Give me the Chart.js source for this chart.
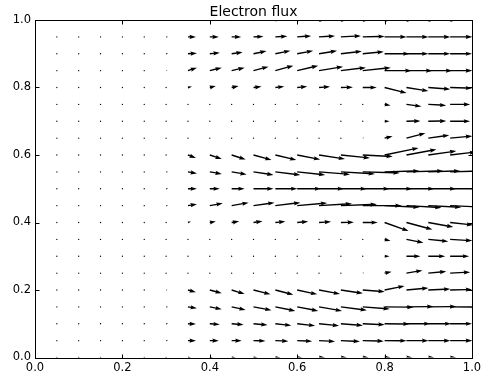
<!DOCTYPE html>
<html>
<head>
<meta charset="utf-8">
<script src="https://cdn.jsdelivr.net/npm/chart.js@4.4.1/dist/chart.umd.min.js"></script>
<style>
  html, body { margin: 0; padding: 0; background: #fff; }
  #wrap { width: 489px; height: 381px; }
</style>
</head>
<body>
<div id="wrap"><canvas id="flux"></canvas></div>
<script>
// grid of arrow tails
const gridX = [0, 0.05, 0.1, 0.15, 0.2, 0.25, 0.3, 0.35, 0.4, 0.45, 0.5, 0.55, 0.6, 0.65, 0.7, 0.75, 0.8, 0.85, 0.9, 0.95, 1.0];
const gridY = [0, 0.05, 0.1, 0.15, 0.2, 0.25, 0.3, 0.35, 0.4, 0.45, 0.5, 0.55, 0.6, 0.65, 0.7, 0.75, 0.8, 0.85, 0.9, 0.95, 1.0];
const xTicks = [0, 0.2, 0.4, 0.6, 0.8, 1.0];
const yTicks = [0, 0.2, 0.4, 0.6, 0.8, 1.0];

// flux components, one row per gridY value (bottom to top), one entry per gridX value
const U = [
  [0,0,0,0,0,0,0, 3,3,4,4,5,5,6,6,6,6,6,6,6,6],
  [0,0,0,0,0,0,2, 8,9,10,12,13,15,16,19,21,22,22,22,22,22],
  [0,0,0,0,0,0,2, 8,10,12,14,16,18,20,22,22,25,24,23,22,22],
  [0,0,0,0,0,0,2, 9,12,14,18,20,21,23,26,27,29,27,28,28,28],
  [0,0,0,0,0,0,1.5, 8,12,13,17,18,20,21,22,22,20,22,22,22,22],
  [0,0,0,0,0,0,0, 0,0,0,0,0,0,0,0,1.5,7,16,18,20,20],
  [0,0,0,0,0,0,0, 0,0,0,0,0,0,0,0,0.5,5,14,17,19,19],
  [0,0,0,0,0,0,0, 0,0,0,0,0,0,0,0,0,6,17,20,22,22],
  [0,0,0,0,0,0,0, 3,6,7.5,9,10,11,12,13,15,24,26,25,23,23],
  [0,0,0,0,0,0,2, 9,13,17,21,25,30,33,36,39,35,35,33,33,33],
  [0,0,0,0,0,0,2, 9,10,13,20,22,24,25,26,27,28,28,28,28,28],
  [0,0,0,0,0,0,2, 9,12,15,20,25,28,31,34,37,35,37,32,32,32],
  [0,0,0,0,0,0,1, 8,12,14,18,21,23,26,29,30,34,30,28,26,26],
  [0,0,0,0,0,0,0, 0,0,0,0,0,0,0,0,1.5,8,19,21,22,22],
  [0,0,0,0,0,0,0, 0,0,0,0,0,0,0,0,0,5,14,18,20,20],
  [0,0,0,0,0,0,0, 0,0,0,0,0,0,0,0,0,6,15,18,20,20],
  [0,0,0,0,0,0,0, 4,6,7,8,9,10,11,12,14,22,22,22,22,22],
  [0,0,0,0,0,0,1.5, 9,12,13,15,18,21,24,25,28,27,26,24,22,22],
  [0,0,0,0,0,0,2, 9,10,11,13,15,16,18,21,21,25,22,22,22,22],
  [0,0,0,0,0,0,2, 8,9,9.5,10,12,14,16,20,22,22,22,22,22,22],
  [0,0,0,0,0,0,0, 3,3,4,4,5,5,6,6,6,6,6,6,6,6]
];
const V = [
  [0,0,0,0,0,0,0, 0,0,0,0,0,0,0,0,0,0,0,0,0,0],
  [0,0,0,0,0,0,0, 0,0,0,-0.3,-0.5,-0.7,-0.8,-0.8,-0.5,-0.2,0,0,0,0],
  [0,0,0,0,0,0,0, -0.3,-0.7,-1,-1.3,-1.7,-2,-2,-1.7,-1,-0.3,0,0,0,0],
  [0,0,0,0,0,0,0, -1.3,-2.3,-3,-3.3,-4,-4,-4,-3.3,-2,-0.3,0.3,0.3,0.3,0.3],
  [0,0,0,0,0,0,0, -2.3,-3.3,-4,-4.3,-4.7,-4.3,-4,-3.3,-1.7,4,2,1,0.5,0.5],
  [0,0,0,0,0,0,0, 0,0,0,0,0,0,0,0,0.5,1.5,2.7,1.7,1,1],
  [0,0,0,0,0,0,0, 0,0,0,0,0,0,0,0,0,0,0,0,0,0],
  [0,0,0,0,0,0,0, 0,0,0,0,0,0,0,0,0,-1.5,-3.3,-2,-1.3,-1.3],
  [0,0,0,0,0,0,0, 1,1,1.3,1.3,1,1,0.7,0.3,0,-8.5,-7,-4.5,-2.5,-2.5],
  [0,0,0,0,0,0,0, 1.5,2.3,3,3,3,2.7,2,1.3,0,-1.7,-2,-1.7,-1.5,-1.5],
  [0,0,0,0,0,0,0, 0,0,0,0,0,0,0,0,0,0,0,0,0,0],
  [0,0,0,0,0,0,0, -1.5,-2,-2.5,-3,-3,-3,-2.5,-2,-1,1,1,1,1,1],
  [0,0,0,0,0,0,0, -3,-4,-4.5,-5,-5,-4.5,-4,-3,-1.5,7,5.5,4,3,3],
  [0,0,0,0,0,0,0, 0,0,0,0,0,0,0,0,0.5,2,5,3,2,2],
  [0,0,0,0,0,0,0, 0,0,0,0,0,0,0,0,0,0,0.3,0.3,0,0],
  [0,0,0,0,0,0,0, 0,0,0,0,0,0,0,0,0,-1,-2,-1,0,0],
  [0,0,0,0,0,0,0, 1,1.5,1.5,1,1,1,0.7,0.3,0,-5.5,-3.5,-1.7,-0.7,-0.7],
  [0,0,0,0,0,0,0, 3,3,3,4,5,5,4,3,3,0,0,0,0,0],
  [0,0,0,0,0,0,0, 0.5,1,1.5,2.7,3,3,3,2.5,2,0,0,0,0,0],
  [0,0,0,0,0,0,0, 0,0,0,0.3,0.7,1,1,1,0.5,0,0,0,0,0],
  [0,0,0,0,0,0,0, 0,0,0,0,0,0,0,0,0,0,0,0,0,0]
];

// one flux unit spans this fraction of the x axis
const arrowScale = 1 / 437;
const FONT = '"DejaVu Sans", "Liberation Sans", sans-serif';

const points = [];
gridY.forEach(y => gridX.forEach(x => points.push({ x: x, y: y })));

// draws one quiver arrow (matplotlib style: tail at the point)
function drawArrow(ctx, x0, y0, u, v, unitPx) {
    const L = Math.sqrt(u * u + v * v) * unitPx;
    let w = 1.4, hl = 6.5, hal = 5.8, hw = 2.1;
    if (L < 1.25) {
        ctx.beginPath();
        ctx.arc(x0, y0, 0.65, 0, Math.PI * 2);
        ctx.fill();
        return;
    }
    if (L < hl) {
        const s = L / hl;
        w *= s; hl *= s; hal *= s; hw *= s;
    }
    ctx.save();
    ctx.translate(x0, y0);
    ctx.rotate(Math.atan2(-v, u));
    ctx.beginPath();
    ctx.moveTo(0, -w / 2);
    ctx.lineTo(L - hal, -w / 2);
    ctx.lineTo(L - hl, -hw);
    ctx.lineTo(L, 0);
    ctx.lineTo(L - hl, hw);
    ctx.lineTo(L - hal, w / 2);
    ctx.lineTo(0, w / 2);
    ctx.closePath();
    ctx.fill();
    ctx.restore();
}

const quiverPlugin = {
    id: 'quiver',
    afterDatasetsDraw(chart) {
        const { ctx, chartArea, scales } = chart;
        const unitPx = (scales.x.getPixelForValue(1) - scales.x.getPixelForValue(0)) * arrowScale;
        ctx.save();
        ctx.beginPath();
        ctx.rect(chartArea.left, chartArea.top, chartArea.right - chartArea.left, chartArea.bottom - chartArea.top);
        ctx.clip();
        ctx.fillStyle = '#000';
        gridY.forEach((y, j) => {
            gridX.forEach((x, k) => {
                drawArrow(ctx, scales.x.getPixelForValue(x), scales.y.getPixelForValue(y), U[j][k], V[j][k], unitPx);
            });
        });
        ctx.restore();
    },
    afterDraw(chart) {
        const { ctx, chartArea, scales } = chart;
        const l = Math.round(chartArea.left) + 0.5, r = Math.round(chartArea.right) + 0.5;
        const t = Math.round(chartArea.top) + 0.5, b = Math.round(chartArea.bottom) + 0.5;
        ctx.save();
        ctx.strokeStyle = '#000';
        ctx.lineWidth = 1;
        // inward ticks on all four sides
        ctx.beginPath();
        xTicks.forEach(v => {
            const px = Math.round(scales.x.getPixelForValue(v)) + 0.5;
            ctx.moveTo(px, b); ctx.lineTo(px, b - 4);
            ctx.moveTo(px, t); ctx.lineTo(px, t + 4);
        });
        yTicks.forEach(v => {
            const py = Math.round(scales.y.getPixelForValue(v)) + 0.5;
            ctx.moveTo(l, py); ctx.lineTo(l + 4, py);
            ctx.moveTo(r, py); ctx.lineTo(r - 4, py);
        });
        ctx.stroke();
        ctx.strokeRect(l, t, r - l, b - t);
        // title
        ctx.fillStyle = '#000';
        ctx.font = '14px ' + FONT;
        ctx.textAlign = 'center';
        ctx.textBaseline = 'alphabetic';
        ctx.fillText('Electron flux', (chartArea.left + chartArea.right) / 2, 15.5);
        ctx.restore();
    }
};

const ctx = document.getElementById('flux').getContext('2d');
const fluxChart = new Chart(ctx, {
    type: 'scatter',
    data: {
        datasets: [{
            label: 'Electron flux',
            data: points,
            pointRadius: 0,
            pointHoverRadius: 0
        }]
    },
    options: {
        responsive: true,
        maintainAspectRatio: false,
        animation: false,
        layout: { padding: { top: 20, right: 17, left: 0, bottom: 0 } },
        plugins: {
            legend: { display: false },
            tooltip: { enabled: false }
        },
        scales: {
            x: {
                type: 'linear',
                min: 0,
                max: 1,
                afterFit: s => { s.height = 23.5; },
                afterBuildTicks: s => { s.ticks = xTicks.map(v => ({ value: v })); },
                grid: { display: false, drawTicks: false },
                border: { display: false },
                ticks: {
                    padding: 4,
                    color: '#000',
                    font: { family: FONT, size: 11.5 },
                    maxRotation: 0,
                    callback: v => v.toFixed(1)
                }
            },
            y: {
                type: 'linear',
                min: 0,
                max: 1,
                afterFit: s => { s.width = 35; },
                afterBuildTicks: s => { s.ticks = yTicks.map(v => ({ value: v })); },
                grid: { display: false, drawTicks: false },
                border: { display: false },
                ticks: {
                    padding: 4,
                    color: '#000',
                    font: { family: FONT, size: 11.5 },
                    callback: v => v.toFixed(1)
                }
            }
        }
    },
    plugins: [quiverPlugin]
});
</script>
</body>
</html>
